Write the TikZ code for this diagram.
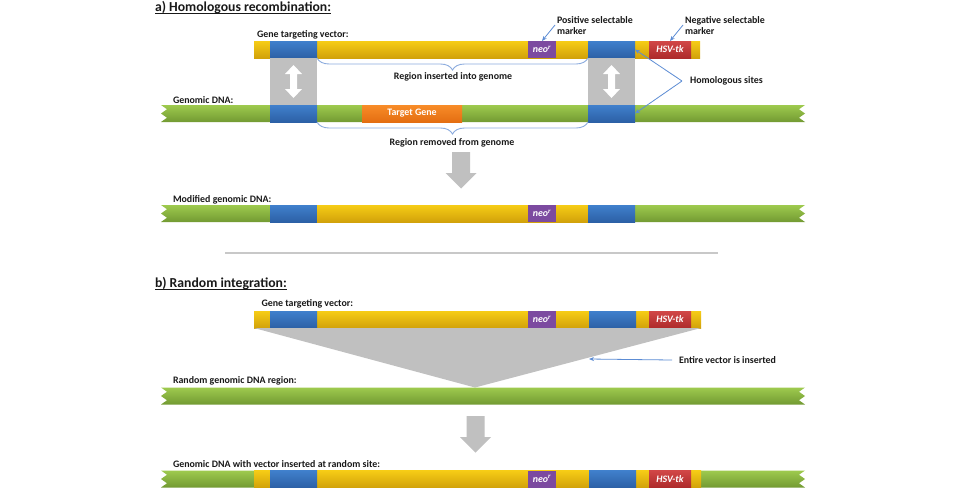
\documentclass[tikz,border=0pt]{standalone}
\usepackage{fontspec}
\setmainfont{Carlito}
\usetikzlibrary{arrows.meta,decorations.pathreplacing,calc}

\definecolor{ylw}{RGB}{246,204,22}
\definecolor{ylwD}{RGB}{210,162,10}
\definecolor{bluT}{RGB}{64,128,204}
\definecolor{bluD}{RGB}{44,96,166}
\definecolor{grn}{RGB}{158,202,78}
\definecolor{grnD}{RGB}{114,154,50}
\definecolor{orgT}{RGB}{248,140,40}
\definecolor{orgD}{RGB}{228,110,18}
\definecolor{pur}{RGB}{124,74,160}
\definecolor{hsvred}{RGB}{204,50,50}
\definecolor{gcol}{RGB}{192,192,192}
\definecolor{annc}{RGB}{92,140,212}
\definecolor{bracec}{RGB}{140,172,222}
\definecolor{sepc}{RGB}{200,200,200}
\definecolor{txt}{RGB}{25,25,25}

\newcommand\lblfont{\fontsize{9.9}{11}\selectfont\bfseries}
\newcommand\ttlfont{\fontsize{13.7}{16}\selectfont\bfseries}

\tikzset{
  seg/.style={inner sep=0pt, outer sep=0pt, minimum height=17pt, anchor=north west, text=white, font=\lblfont},
  yelseg/.style={seg, top color=ylw, bottom color=ylwD},
  bluseg/.style={seg, top color=bluT, bottom color=bluD, minimum width=47pt},
  neoseg/.style={seg, fill=pur, minimum width=28pt, font=\lblfont\itshape},
  hsvseg/.style={seg, top color=hsvred!90!white, bottom color=hsvred!85!black, minimum width=42pt, font=\lblfont\itshape},
  orgseg/.style={seg, top color=orgT, bottom color=orgD, minimum width=100pt},
  lbl/.style={inner sep=0pt, outer sep=0pt, font=\lblfont, text=txt},
  ttl/.style={inner sep=0pt, outer sep=0pt, font=\ttlfont, text=txt, anchor=base west},
  annarrow/.style={draw=annc, line width=0.8pt, -{Stealth[length=5pt,width=4pt]}},
  bracestyle/.style={draw=bracec, line width=0.9pt, decorate, decoration={brace, amplitude=12pt}},
  dblarrow/.pic={\fill[white] (0,-16.5) -- (8.5,-7.5) -- (3.5,-7.5) -- (3.5,7.5) -- (8.5,7.5) -- (0,16.5) -- (-8.5,7.5) -- (-3.5,7.5) -- (-3.5,-7.5) -- (-8.5,-7.5) -- cycle;},
  downarrow/.pic={\fill[gcol] (-9,0) -- (9,0) -- (9,21) -- (15.5,21) -- (0,36.5) -- (-15.5,21) -- (-9,21) -- cycle;}
}

\newcommand\gbar[2]{%
  \path[top color=grn, bottom color=grnD]
    (161,#1) -- (805,#1) -- (799,#1+4.25) -- (805,#1+8.5) -- (799,#1+12.75) -- (805,#1+17)
    -- (161,#1+17) -- (167,#1+12.75) -- (161,#1+8.5) -- (167,#1+4.25) -- cycle;
  \coordinate (#2) at (483,#1);%
}

\begin{document}
\begin{tikzpicture}[x=1pt,y=-1pt]
\useasboundingbox (0,0) rectangle (960,488);
\fill[white] (0,0) rectangle (960,488);

% ---------- a) Homologous recombination ----------
\node[ttl] (tA) at (155,11.5) {a) Homologous recombination:};
\draw[txt, line width=1pt] ([yshift=-1.6pt]tA.base west) -- ([yshift=-1.6pt]tA.base east);

\node[lbl, anchor=west] (lvecA) at (257,35) {Gene targeting vector:};
\node[yelseg, minimum width=446pt] (vecA) at (254,41) {};
\node[bluseg] (vA1) at (270,41) {};
\node[neoseg] (nA) at (528,41) {neo\textsuperscript{r}};
\node[bluseg] (vA2) at (588,41) {};
\node[hsvseg] (hA) at (649,41) {HSV-tk};

\node[lbl, anchor=west] (lgenA) at (173,100) {Genomic DNA:};
\gbar{105}{genA}
\node[bluseg] (gA1) at (270,105) {};
\node[orgseg] (tg) at (362,105) {Target Gene};
\node[bluseg] (gA2) at (588,105) {};

% grey columns with double arrows
\fill[gcol] (vA1.south west) rectangle (gA1.north east);
\fill[gcol] (vA2.south west) rectangle (gA2.north east);
\coordinate (cA1) at ($(vA1.south)!0.5!(gA1.north)$);
\coordinate (cA2) at ($(vA2.south)!0.5!(gA2.north)$);
\pic at (cA1) {dblarrow};
\pic at (cA2) {dblarrow};

% braces
\draw[bracestyle] (vA2.south west) -- (vA1.south east);
\node[lbl] (rins) at (453,77) {Region inserted into genome};
\draw[bracestyle] (gA2.south west) -- (gA1.south east);
\node[lbl] (rrem) at (452,142.5) {Region removed from genome};

% marker annotations
\node[lbl, anchor=north west, align=left] (pos) at (557,17) {Positive selectable\\marker};
\coordinate (posS) at (555,25);
\draw[annarrow] (posS) -- (nA.north);
\node[lbl, anchor=north west, align=left] (neg) at (685,17) {Negative selectable\\marker};
\coordinate (negS) at (683,25);
\draw[annarrow] (negS) -- (hA.north);
\node[lbl, anchor=west] (hom) at (690,81) {Homologous sites};
\coordinate (homS) at (682,81);
\draw[annarrow] (homS) -- (vA2.east);
\draw[annarrow] (homS) -- (gA2.east);

% arrow down
\coordinate (arA) at (461,152);
\pic at (arA) {downarrow};

% modified genomic DNA
\node[lbl, anchor=west] (lmod) at (173,199.5) {Modified genomic DNA:};
\gbar{205}{modA}
\node[bluseg] (mA1) at (270,205) {};
\node[yelseg, minimum width=271pt] (mY) at (317,205) {};
\node[neoseg] (mN) at (528,205) {neo\textsuperscript{r}};
\node[bluseg] (mA2) at (588,205) {};

% separator
\coordinate (sepL) at (225,253);
\coordinate (sepR) at (718,253);
\draw[sepc, line width=1.3pt] (sepL) -- (sepR);

% ---------- b) Random integration ----------
\node[ttl] (tB) at (155,287.5) {b) Random integration:};
\draw[txt, line width=1pt] ([yshift=-1.6pt]tB.base west) -- ([yshift=-1.6pt]tB.base east);

\node[lbl, anchor=west] (lvecB) at (261.5,303.5) {Gene targeting vector:};
\node[yelseg, minimum width=447pt] (vecB) at (254,311) {};
\node[bluseg] (vB1) at (270,311) {};
\node[neoseg] (nB) at (528,311) {neo\textsuperscript{r}};
\node[bluseg] (vB2) at (589,311) {};
\node[hsvseg] (hB) at (649,311) {HSV-tk};

\coordinate (apex) at (475,387.5);
\fill[gcol] (vecB.south west) -- (vecB.south east) -- (apex) -- cycle;

\node[lbl, anchor=west] (ent) at (679,360.5) {Entire vector is inserted};
\coordinate (entS) at (672,360);
\coordinate (entT) at (589,359);
\draw[annarrow] (entS) -- (entT);

\node[lbl, anchor=west] (lrnd) at (173,381) {Random genomic DNA region:};
\gbar{387.5}{rndB}

\coordinate (arB) at (475.5,416);
\pic at (arB) {downarrow};

\node[lbl, anchor=west] (lfin) at (173,464.5) {Genomic DNA with vector inserted at random site:};
\gbar{470.5}{finB}
\node[yelseg, minimum width=447pt] (fY) at (254,470.5) {};
\node[bluseg] (fB1) at (270,470.5) {};
\node[neoseg] (fN) at (528,470.5) {neo\textsuperscript{r}};
\node[bluseg] (fB2) at (589,470.5) {};
\node[hsvseg] (fH) at (649,470.5) {HSV-tk};
\end{tikzpicture}
\end{document}
